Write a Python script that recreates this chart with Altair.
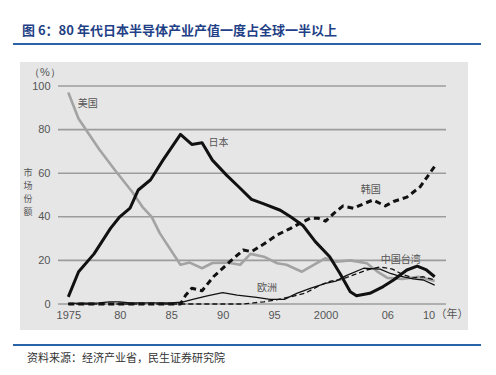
import altair as alt
import pandas as pd

# ---- data ----
us_years = [1975, 1976, 1978, 1979.6, 1981.2, 1982.2, 1983.1, 1983.9, 1985.9, 1986.8, 1988, 1989, 1990.4,
            1991.7, 1992.7, 1994, 1995.3, 1996.2, 1997.7, 2000, 2001, 2002.4, 2004, 2005, 2006, 2007.5, 2009, 2010.6]
us_vals = [97, 85, 71, 61, 51.5, 44.6, 40, 32.4, 18, 19, 16.4, 18.8, 19,
           18, 23, 21.7, 18.7, 18, 14.8, 21, 19.4, 20, 18.7, 15, 12, 11.5, 12.5, 10.5]

japan_years = [1975, 1976, 1977.5, 1979.1, 1980, 1981, 1981.8, 1983, 1984.2, 1985.9, 1987, 1988, 1989,
               1990.4, 1991.5, 1992.8, 1994, 1995.6, 1996.6, 1997.8, 1999, 2000.4, 2001.4, 2002.4, 2003,
               2004.3, 2005.6, 2006.6, 2007.9, 2008.9, 2009.8, 2010.6]
japan_vals = [3.3, 14.8, 23, 34.7, 40, 44, 52.3, 57, 66, 77.8, 73.2, 74, 66,
              59, 54, 48, 45.9, 43, 40, 36, 28.6, 21.7, 14, 5.6, 3.8,
              4.9, 8, 11, 15.6, 17.4, 15.6, 12.5]

korea_years = [1975, 1985.9, 1986.4, 1987, 1988, 1989.1, 1990.7, 1992, 1992.8, 1994, 1995.3, 1996.6,
               1997.5, 1998.5, 1999.3, 2000, 2000.8, 2001.7, 2002.7, 2003.7, 2004.6, 2005.8, 2006.6,
               2007.9, 2009.2, 2010.8]
korea_vals = [0, 0, 4, 7.2, 6.1, 12.5, 19.4, 24.8, 24, 27.5, 31.7, 34.7,
              37, 39.3, 39.3, 38, 41.6, 45, 43.9, 46, 47.7, 45, 47,
              49, 53.8, 64.5]

europe_years = [1975, 1978, 1979, 1980, 1981, 1985, 1986, 1987, 1988.5, 1990, 1991.4, 1993.3, 1994.6, 1996,
                1997.2, 1998.5, 2000, 2001, 2002, 2003.7, 2005.3, 2006.3, 2007, 2008.5, 2009.5, 2010.6]
europe_vals = [0.3, 0.5, 1, 1, 0.5, 0.5, 0.8, 2, 3.7, 5.2, 4.1, 3, 2.1, 2.1,
               4.9, 7.2, 9.5, 10.5, 13, 16.4, 16, 14, 13, 11.5, 11, 8.7]

taiwan_years = [1975, 1992, 1993, 1994, 1995.3, 1996.6, 1998, 1999.5, 2000.5, 2001.5, 2002.5, 2004, 2005.3,
                2006.5, 2007.5, 2008.5, 2009.5, 2010.6]
taiwan_vals = [0, 0, 0.5, 1, 2, 3.3, 4.9, 8.7, 10.5, 11.2, 13, 15.6, 17,
               16, 13.5, 12, 12.5, 11]

label_names = ["美国", "日本", "韩国", "欧洲", "中国台湾"]
label_years = [1976.9, 1989.6, 2004.4, 1994.3, 2007.3]
label_vals = [91.7, 73.9, 52.3, 7.3, 20.2]

x_tick_values = [1975, 1980, 1985, 1990, 1995, 2000, 2006, 2010]
x_tick_labels = ["1975", "80", "85", "90", "95", "2000", "06", "10"]
y_tick_values = [0, 20, 40, 60, 80, 100]

ytitle_chars = ["市", "场", "份", "额"]

title_text = "图 6：80 年代日本半导体产业产值一度占全球一半以上"
source_text = "资料来源：经济产业省，民生证券研究院"

CJK = "Noto Sans CJK SC"
NUM = "Liberation Sans"

label_expr = " : ".join(
    f"datum.value == {v} ? '{t}'" for v, t in zip(x_tick_values, x_tick_labels)
) + " : ''"

xscale = alt.Scale(domain=[1974, 2011.7], nice=False, zero=False)
yscale = alt.Scale(domain=[0, 100], nice=False)

one = pd.DataFrame({"a": [0]})


def series_df(years, vals):
    return pd.DataFrame({"year": years, "value": vals})


def line_layer(years, vals, color, width, dash=None, axes=False):
    kw = dict(color=color, strokeWidth=width, strokeJoin="round", strokeCap="butt")
    if dash:
        kw["strokeDash"] = dash
    if axes:
        x = alt.X("year:Q", scale=xscale, title=None,
                  axis=alt.Axis(values=x_tick_values, labelExpr=label_expr, grid=False, domain=False,
                                ticks=False, labelPadding=5, labelFont=NUM, labelFontSize=11,
                                labelColor="#555555", zindex=1))
        y = alt.Y("value:Q", scale=yscale, title=None,
                  axis=alt.Axis(values=y_tick_values, grid=False,
                                domain=False, ticks=False, labelPadding=8, labelFont=NUM,
                                labelFontSize=11, labelColor="#555555", zindex=1))
    else:
        x = alt.X("year:Q", scale=xscale)
        y = alt.Y("value:Q", scale=yscale)
    return alt.Chart(series_df(years, vals)).mark_line(**kw).encode(x=x, y=y)


panel = alt.Chart(one).mark_rect(color="#e6e6e6").encode(
    x=alt.value(-38), x2=alt.value(410), y=alt.value(-24), y2=alt.value(244))

grid = alt.Chart(pd.DataFrame({"g": y_tick_values})).mark_rule(color="#9c9c9c", strokeWidth=1.6).encode(
    y=alt.Y("g:Q", scale=yscale), x=alt.value(0), x2=alt.value(388))

us = line_layer(us_years, us_vals, "#a3a3a3", 2.6, axes=True)
europe = line_layer(europe_years, europe_vals, "#111111", 1.3)
taiwan = line_layer(taiwan_years, taiwan_vals, "#111111", 1.3, dash=[5, 3])
korea = line_layer(korea_years, korea_vals, "#111111", 3, dash=[6, 4])
japan = line_layer(japan_years, japan_vals, "#111111", 3)

labels = alt.Chart(pd.DataFrame({"name": label_names, "year": label_years, "value": label_vals})).mark_text(
    font=CJK, fontSize=10, color="#555555", align="center", baseline="middle"
).encode(x=alt.X("year:Q", scale=xscale), y=alt.Y("value:Q", scale=yscale), text="name:N")

year_unit = alt.Chart(one).mark_text(font=CJK, fontSize=11, color="#555555", align="left",
                                     baseline="top", dx=7, dy=5).encode(
    x=alt.datum(2010), y=alt.datum(0), text=alt.value("（年）"))

pct = alt.Chart(one).mark_text(font=NUM, fontSize=11, color="#555555", align="center",
                               baseline="middle").encode(
    x=alt.value(-13), y=alt.value(-13), text=alt.value("（%）"))

ytitle = alt.Chart(pd.DataFrame({"ch": ytitle_chars, "py": [87, 100, 113, 126]})).mark_text(
    font=CJK, fontSize=9, color="#555555", align="center", baseline="middle").encode(
    x=alt.value(-30), y=alt.Y("py:Q", scale=None), text="ch:N")

title = alt.Chart(one).mark_text(font=CJK, fontSize=13, fontWeight="bold", color="#1f3f86",
                                 align="left", baseline="middle").encode(
    x=alt.value(-36), y=alt.value(-55), text=alt.value(title_text))

rule_top = alt.Chart(one).mark_rule(color="#2a64a8", strokeWidth=2).encode(
    x=alt.value(-45), x2=alt.value(423), y=alt.value(-42))
rule_bottom = alt.Chart(one).mark_rule(color="#2a64a8", strokeWidth=2).encode(
    x=alt.value(-45), x2=alt.value(423), y=alt.value(259))

source = alt.Chart(one).mark_text(font=CJK, fontSize=11, color="#333333", align="left",
                                  baseline="middle").encode(
    x=alt.value(-31), y=alt.value(273), text=alt.value(source_text))

chart = alt.layer(
    panel, grid, us, europe, taiwan, korea, japan, labels, year_unit, pct, ytitle,
    title, rule_top, rule_bottom, source
).properties(
    width=388, height=218,
    autosize=alt.AutoSizeParams(type="none"),
    padding={"left": 50, "top": 78, "right": 42, "bottom": 63},
    background="white",
).configure_view(stroke=None)

chart.save("out.html", embed_options={"renderer": "svg", "actions": False})
